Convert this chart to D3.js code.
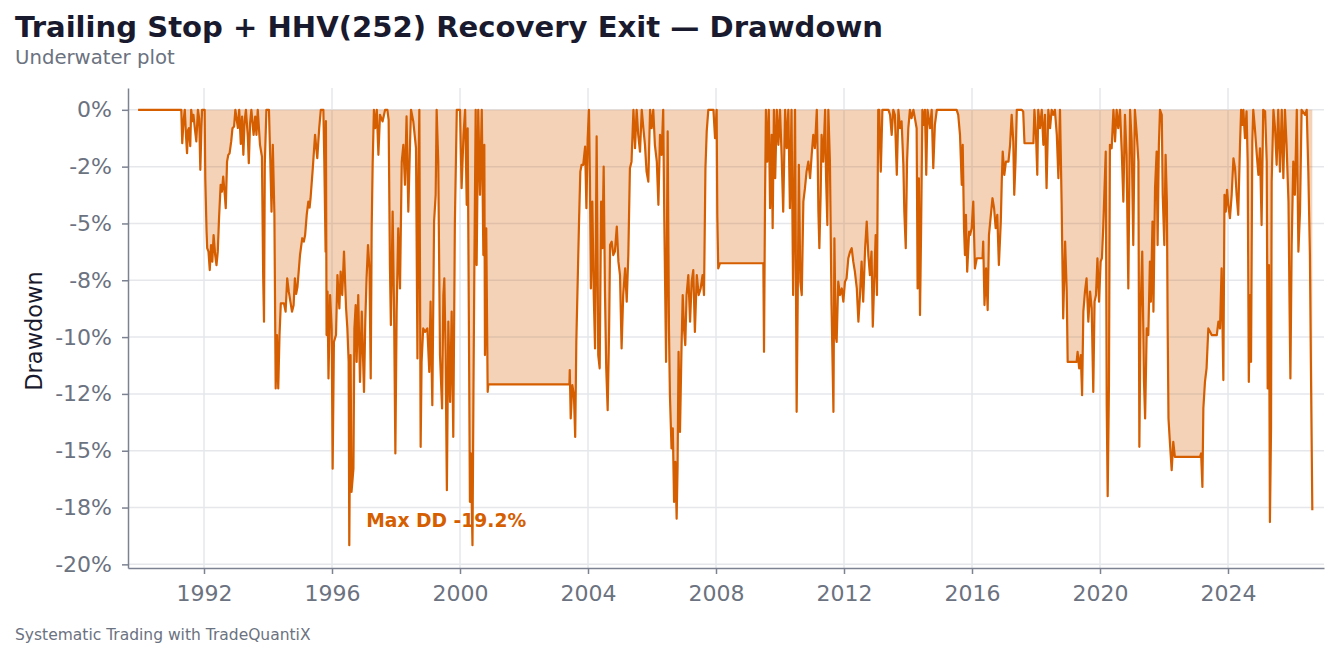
<!DOCTYPE html>
<html>
<head>
<meta charset="utf-8">
<script src="https://cdn.jsdelivr.net/npm/d3@7"></script>
<style>
    body { margin: 0; background: #fff; }
    svg { display: block; font-family: "DejaVu Sans", sans-serif; }
</style>
</head>
<body>
<svg id="chart" width="1339" height="657"></svg>
<script>
// Drawdown (%), as [decimal year, drawdown]
const dd1990s = [
    [1989.94, 0], [1991.29, 0], [1991.32, -1.47], [1991.36, -0.5], [1991.40, 0], [1991.44, -1.2], [1991.47, -1.91],
    [1991.50, -0.9], [1991.53, -0.81], [1991.57, -1.6], [1991.60, 0], [1991.64, -0.5], [1991.67, -0.22], [1991.72, -0.9],
    [1991.76, -1.39], [1991.81, 0], [1991.85, -0.4], [1991.885, -2.64], [1991.92, -0.8], [1991.94, 0], [1992.02, 0],
    [1992.04, -3.01], [1992.08, -5.36], [1992.10, -6.09], [1992.14, -6.24], [1992.18, -7.05], [1992.22, -5.95],
    [1992.26, -6.68], [1992.30, -5.51], [1992.35, -6.39], [1992.39, -6.83], [1992.43, -6.24], [1992.47, -4.77],
    [1992.52, -3.30], [1992.56, -3.60], [1992.60, -2.94], [1992.65, -3.74], [1992.68, -4.33], [1992.72, -2.28],
    [1992.76, -1.98], [1992.80, -1.91], [1992.85, -1.39], [1992.89, -0.81], [1992.94, -0.73], [1992.98, 0],
    [1993.06, -0.8], [1993.10, 0], [1993.15, -1.5], [1993.19, -0.3], [1993.23, -1.98], [1993.27, -0.5], [1993.31, 0],
    [1993.37, -1.2], [1993.40, -2.35], [1993.44, -0.6], [1993.48, 0], [1993.55, -1.1], [1993.60, -0.3], [1993.64, -1.10],
    [1993.68, 0], [1993.75, -1.54], [1993.81, -2.06], [1993.85, -7.4], [1993.875, -9.32], [1993.90, -2.4], [1993.95, 0],
    [1994.03, 0], [1994.07, -2.13], [1994.11, -4.48], [1994.15, -1.54], [1994.20, -4.62], [1994.24, -12.26],
    [1994.28, -9.91], [1994.32, -12.26], [1994.36, -9.91], [1994.40, -8.52], [1994.50, -8.52], [1994.55, -8.88],
    [1994.60, -7.42], [1994.65, -8.0], [1994.70, -8.44], [1994.75, -8.88], [1994.80, -8.6], [1994.84, -7.42],
    [1994.88, -8.1], [1994.92, -7.8], [1995.0, -6.39], [1995.07, -5.65], [1995.12, -5.8], [1995.16, -5.51],
    [1995.21, -4.62], [1995.26, -4.04], [1995.30, -4.3], [1995.33, -3.89], [1995.40, -2.57], [1995.47, -1.10],
    [1995.54, -2.13], [1995.60, -0.81], [1995.65, 0], [1995.73, 0], [1995.76, -2.28], [1995.80, -6.24], [1995.81, -0.5],
    [1995.83, -9.91], [1995.86, -8.0], [1995.89, -11.82], [1995.94, -8.15], [1995.99, -9.62], [1996.02, -15.79],
    [1996.06, -10.21], [1996.125, -9.91], [1996.17, -7.27], [1996.23, -8.74], [1996.27, -7.12], [1996.32, -8.15],
    [1996.375, -6.24], [1996.44, -8.74], [1996.48, -9.62], [1996.52, -11.09], [1996.54, -19.16], [1996.58, -10.79],
    [1996.61, -16.81], [1996.67, -15.79], [1996.70, -9.62], [1996.74, -8.59], [1996.77, -11.09], [1996.82, -8.15],
    [1996.875, -11.97], [1996.93, -8.88], [1997.0, -12.41], [1997.04, -9.32], [1997.08, -7.42], [1997.125, -5.95],
    [1997.17, -6.98], [1997.21, -11.82], [1997.24, -5.21], [1997.27, -2.42], [1997.31, 0], [1997.35, -0.81],
    [1997.40, 0], [1997.45, -1.98], [1997.50, -0.22], [1997.58, -0.51], [1997.66, 0], [1997.73, 0], [1997.77, -0.44],
    [1997.81, -6.83], [1997.84, -9.47], [1997.895, -4.48], [1997.94, -8.88], [1997.98, -15.12], [1998.02, -8.88],
    [1998.07, -5.21], [1998.125, -7.86], [1998.18, -2.28], [1998.23, -1.54], [1998.28, -3.30], [1998.33, -0.29],
    [1998.385, -4.48], [1998.44, -1.39], [1998.47, 0], [1998.54, -0.51], [1998.625, -1.69], [1998.67, -10.94],
    [1998.70, -3.01], [1998.73, 0], [1998.77, -14.83], [1998.80, -11.09], [1998.85, -9.62], [1998.91, -9.77],
    [1998.98, -9.62], [1999.04, -11.53], [1999.08, -8.44], [1999.135, -13.0], [1999.19, -4.92], [1999.24, -3.74],
    [1999.27, 0], [1999.32, -2.28], [1999.375, -10.79], [1999.44, -13.14], [1999.48, -8.15], [1999.51, -7.42],
    [1999.55, -10.79], [1999.59, -16.74], [1999.635, -9.32], [1999.69, -12.85], [1999.74, -8.88], [1999.79, -14.39],
    [1999.84, -4.92], [1999.90, 0]
];

const dd2000s = [
    [2000.0, 0], [2000.05, -3.45], [2000.11, -1.10], [2000.16, 0], [2000.21, -4.18], [2000.24, -0.81], [2000.28, -9.91],
    [2000.31, -17.25], [2000.34, -15.12], [2000.39, -19.16], [2000.42, -12.56], [2000.45, -6.68], [2000.49, 0],
    [2000.52, -6.83], [2000.57, 0], [2000.625, -3.74], [2000.68, 0], [2000.73, -6.39], [2000.76, -1.54],
    [2000.78, -10.79], [2000.82, -5.21], [2000.865, -12.41], [2000.885, -12.08], [2003.42, -12.08], [2003.43, -11.45],
    [2003.46, -13.58], [2003.51, -12.11], [2003.56, -12.56], [2003.60, -14.39], [2003.635, -10.21], [2003.68, -7.42],
    [2003.72, -4.92], [2003.76, -2.72], [2003.80, -2.42], [2003.85, -2.42], [2003.91, -1.62], [2003.95, -4.33],
    [2003.99, -1.25], [2004.03, 0], [2004.06, -3.01], [2004.09, -7.86], [2004.135, -4.04], [2004.18, -8.15],
    [2004.22, -10.50], [2004.27, -1.17], [2004.32, -10.79], [2004.365, -11.38], [2004.41, -4.04], [2004.45, -6.09],
    [2004.49, -2.50], [2004.53, -8.0], [2004.57, -11.38], [2004.615, -13.22], [2004.66, -9.62], [2004.69, -5.95],
    [2004.74, -5.80], [2004.79, -6.39], [2004.84, -6.24], [2004.90, -5.14], [2004.95, -6.68], [2005.0, -7.27],
    [2005.05, -10.50], [2005.10, -8.15], [2005.16, -6.98], [2005.21, -8.44], [2005.26, -6.39], [2005.31, -2.57],
    [2005.36, -2.28], [2005.42, 0], [2005.47, -1.69], [2005.52, 0], [2005.57, -1.10], [2005.625, -1.84], [2005.68, 0],
    [2005.73, -0.81], [2005.78, -1.54], [2005.83, -2.72], [2005.885, -3.16], [2005.94, 0], [2005.99, -0.81],
    [2006.04, 0], [2006.09, -1.54], [2006.15, -2.28], [2006.20, -4.18], [2006.25, -1.10], [2006.30, -1.98],
    [2006.35, 0], [2006.385, -4.92], [2006.44, -11.09], [2006.49, -0.95], [2006.53, -9.62], [2006.56, -12.56],
    [2006.61, -14.90], [2006.65, -14.02], [2006.69, -17.25], [2006.73, -15.49], [2006.77, -17.99], [2006.80, -15.64],
    [2006.83, -10.65], [2006.875, -14.17], [2006.92, -10.65], [2006.96, -8.15], [2007.0, -9.62], [2007.04, -10.35],
    [2007.08, -8.15], [2007.135, -7.27], [2007.19, -9.32], [2007.24, -7.56], [2007.29, -7.05], [2007.34, -9.77],
    [2007.40, -7.27], [2007.46, -8.15], [2007.52, -7.86], [2007.58, -7.27], [2007.625, -8.15], [2007.67, -2.57],
    [2007.71, -0.95], [2007.76, 0], [2007.92, 0], [2007.97, -1.25], [2008.02, 0], [2008.04, -4.62], [2008.07, -6.98],
    [2008.125, -6.75], [2009.48, -6.75], [2009.50, -10.65], [2009.53, -4.33], [2009.56, 0], [2009.60, -2.28],
    [2009.65, 0], [2009.69, -4.33], [2009.74, -1.10], [2009.77, -5.21], [2009.81, 0], [2009.85, -3.01], [2009.90, 0],
    [2009.95, -1.54]
];

const dd2010s = [
    [2010.0, 0], [2010.05, -1.98], [2010.10, -4.48], [2010.16, 0], [2010.21, -1.69], [2010.26, 0], [2010.31, -4.33],
    [2010.36, 0], [2010.41, -8.15], [2010.47, 0], [2010.52, -13.29], [2010.55, -8.88], [2010.59, -2.42],
    [2010.635, -7.56], [2010.68, -8.15], [2010.73, -4.04], [2010.78, -3.45], [2010.83, -2.72], [2010.885, -2.28],
    [2010.94, -3.01], [2010.99, -1.98], [2011.04, -1.10], [2011.09, -1.69], [2011.15, 0], [2011.18, -2.28],
    [2011.20, -4.48], [2011.23, -6.09], [2011.27, -3.74], [2011.30, -1.10], [2011.35, -2.28], [2011.41, 0],
    [2011.44, -3.01], [2011.48, -5.07], [2011.51, 0], [2011.56, -2.28], [2011.61, -8.59], [2011.67, -13.29],
    [2011.70, -5.65], [2011.74, -9.91], [2011.77, -10.21], [2011.82, -7.56], [2011.875, -8.15], [2011.93, -7.86],
    [2011.98, -8.44], [2012.03, -7.56], [2012.08, -7.42], [2012.135, -6.53], [2012.19, -6.24], [2012.24, -6.09],
    [2012.29, -6.68], [2012.34, -7.12], [2012.40, -7.86], [2012.45, -9.32], [2012.50, -8.15], [2012.55, -6.68],
    [2012.60, -8.44], [2012.66, -6.09], [2012.71, -4.92], [2012.76, -6.39], [2012.81, -7.27], [2012.86, -6.24],
    [2012.90, -9.54], [2012.95, -7.27], [2012.99, -5.51], [2013.03, -8.15], [2013.07, 0], [2013.10, 0],
    [2013.15, -2.72], [2013.20, 0], [2013.39, 0], [2013.44, -0.22], [2013.49, -1.10], [2013.54, 0], [2013.59, -0.22],
    [2013.65, -2.86], [2013.70, 0], [2013.75, -0.81], [2013.80, -0.51], [2013.855, -2.42], [2013.885, -4.48],
    [2013.93, -6.09], [2013.97, -2.28], [2014.01, -0.81], [2014.06, 0], [2014.11, -0.37], [2014.17, 0],
    [2014.27, -0.81], [2014.30, -7.86], [2014.34, -3.01], [2014.375, -9.03], [2014.41, -5.21], [2014.45, 0],
    [2014.49, -0.66], [2014.53, 0], [2014.57, -2.86], [2014.61, 0], [2014.69, -0.81], [2014.74, 0], [2014.79, -2.57],
    [2014.84, -0.66], [2014.90, 0], [2015.52, 0], [2015.57, -0.22], [2015.625, -1.10], [2015.68, -3.30],
    [2015.71, -1.54], [2015.75, -5.21], [2015.78, -6.39], [2015.81, -4.62], [2015.85, -7.12], [2015.91, -5.36],
    [2015.94, -5.51], [2015.99, -5.21], [2016.04, -4.04], [2016.09, -6.98], [2016.15, -6.53], [2016.33, -6.53],
    [2016.35, -5.80], [2016.39, -8.59], [2016.44, -6.98], [2016.49, -8.81], [2016.53, -5.51], [2016.58, -4.77],
    [2016.64, -3.89], [2016.69, -4.33], [2016.74, -5.21], [2016.79, -4.62], [2016.84, -6.83], [2016.90, -4.92],
    [2016.93, -3.16], [2016.96, -1.84], [2017.01, -2.86], [2017.06, -2.28], [2017.14, -2.28], [2017.19, -1.54],
    [2017.24, -0.22], [2017.29, -1.39], [2017.32, -3.74], [2017.36, -2.28], [2017.40, 0], [2017.55, 0],
    [2017.60, -0.07], [2017.64, -1.47], [2017.92, -1.47], [2017.95, 0], [2018.0, -1.10], [2018.04, -2.86],
    [2018.07, 0], [2018.125, -0.81], [2018.18, 0], [2018.23, -1.54], [2018.28, -0.22], [2018.33, -3.45],
    [2018.385, 0], [2018.44, -0.81], [2018.49, 0], [2018.54, -0.22], [2018.59, 0], [2018.65, -1.10], [2018.70, -3.01],
    [2018.75, 0], [2018.80, -4.04], [2018.85, -9.18], [2018.91, -5.80], [2018.96, -8.0], [2018.99, -11.09],
    [2019.27, -11.09], [2019.30, -10.65], [2019.35, -11.38], [2019.40, -10.79], [2019.44, -12.56], [2019.48, -8.88],
    [2019.53, -8.0], [2019.58, -7.42], [2019.635, -9.32], [2019.69, -8.0], [2019.74, -8.74], [2019.79, -12.41],
    [2019.83, -8.44], [2019.875, -8.15], [2019.92, -6.53], [2019.97, -8.44]
];

const dd2020s = [
    [2020.02, -6.68], [2020.06, -6.53], [2020.10, -5.21], [2020.135, -3.74], [2020.18, -1.84], [2020.21, -13.0],
    [2020.24, -17.0], [2020.28, -12.11], [2020.31, -1.54], [2020.365, -1.69], [2020.42, 0], [2020.47, -1.39],
    [2020.52, 0], [2020.57, -0.81], [2020.625, 0], [2020.68, -1.84], [2020.73, -4.04], [2020.78, -0.22],
    [2020.83, -1.98], [2020.885, -7.86], [2020.94, 0], [2020.99, -1.39], [2021.04, -5.95], [2021.09, 0],
    [2021.15, -1.10], [2021.20, -2.28], [2021.23, -14.83], [2021.27, -8.74], [2021.32, -6.24], [2021.375, -11.97],
    [2021.41, -13.58], [2021.46, -9.62], [2021.51, -9.91], [2021.56, -6.68], [2021.59, -8.44], [2021.64, -4.92],
    [2021.67, -8.88], [2021.72, -3.45], [2021.77, -1.84], [2021.80, -5.95], [2021.84, -1.54], [2021.875, 0],
    [2021.93, -0.22], [2021.96, -3.74], [2022.01, -5.95], [2022.05, -1.98], [2022.09, -4.04], [2022.115, -9.62],
    [2022.14, -13.58], [2022.19, -14.76], [2022.24, -15.86], [2022.29, -14.61], [2022.34, -15.27], [2023.125, -15.27],
    [2023.16, -15.12], [2023.20, -16.59], [2023.23, -13.14], [2023.28, -11.97], [2023.33, -11.38], [2023.385, -9.62],
    [2023.44, -9.77], [2023.49, -9.91], [2023.65, -9.91], [2023.70, -9.32], [2023.75, -9.62], [2023.80, -6.98],
    [2023.855, -11.89], [2023.89, -3.74], [2023.93, -4.48], [2023.97, -3.52], [2024.01, -4.18], [2024.06, -4.77],
    [2024.115, -3.74], [2024.17, -2.13], [2024.22, -2.57], [2024.27, -3.74], [2024.32, -4.62], [2024.375, -1.54],
    [2024.41, 0], [2024.45, -0.66], [2024.48, 0], [2024.53, -1.25], [2024.58, -0.07], [2024.615, -2.28],
    [2024.65, -11.97], [2024.69, -8.15], [2024.72, -11.09], [2024.76, -1.39], [2024.79, 0], [2024.84, -0.81],
    [2024.90, -1.98], [2024.95, -2.86], [2025.0, -1.69], [2025.05, -5.07], [2025.10, 0], [2025.16, -0.07],
    [2025.21, -2.28], [2025.24, -12.26], [2025.28, -6.83], [2025.31, -18.14], [2025.345, -14.02], [2025.365, -3.16],
    [2025.42, 0], [2025.47, -0.81], [2025.52, -2.42], [2025.57, 0], [2025.625, -2.72], [2025.68, 0], [2025.73, -3.01],
    [2025.78, 0], [2025.83, -1.54], [2025.89, -4.04], [2025.93, -9.47], [2025.95, -11.82], [2025.99, -5.95],
    [2026.04, -2.28], [2026.09, -3.74], [2026.15, 0], [2026.20, -6.24], [2026.25, -4.48], [2026.30, 0],
    [2026.41, -0.22], [2026.46, 0], [2026.51, -2.72], [2026.56, -6.39], [2026.59, -11.09], [2026.635, -17.62]
];

// Axis ticks
const xTicks = [1992, 1996, 2000, 2004, 2008, 2012, 2016, 2020, 2024];
const yTicks = [0, -2.5, -5, -7.5, -10, -12.5, -15, -17.5, -20];
const yTickLabels = ["0%", "-2%", "-5%", "-8%", "-10%", "-12%", "-15%", "-18%", "-20%"];
const maxDD = -19.2;
const maxDDYear = 1996.54;

const drawdown = [...dd1990s, ...dd2000s, ...dd2010s, ...dd2020s];

const svg = d3.select("#chart"),
    margin = { top: 88, right: 15, bottom: 89, left: 128 },
    width = +svg.attr("width") - margin.left - margin.right,
    height = +svg.attr("height") - margin.top - margin.bottom;

const orange = "#d55e00",
    gray = "#6b7280",
    dark = "#1a1a2e";

const x = d3.scaleLinear().domain([1989.625, 2027.0]).range([0, width]);
const y = d3.scaleLinear().domain([-20.16, 0.96]).range([height, 0]);

// Title block
svg.append("text")
    .attr("x", 15).attr("y", 37)
    .attr("font-size", 29.1).attr("font-weight", "bold")
    .attr("fill", dark)
    .text("Trailing Stop + HHV(252) Recovery Exit — Drawdown");

svg.append("text")
    .attr("x", 15).attr("y", 64)
    .attr("font-size", 19.7)
    .attr("fill", gray)
    .text("Underwater plot");

svg.append("text")
    .attr("x", 15).attr("y", 640)
    .attr("font-size", 15.5)
    .attr("fill", gray)
    .text("Systematic Trading with TradeQuantiX");

const g = svg.append("g")
    .attr("transform", `translate(${margin.left},${margin.top})`);

// Grid
g.append("g").selectAll("line")
    .data(yTicks).enter().append("line")
    .attr("x1", 0).attr("x2", width)
    .attr("y1", d => y(d)).attr("y2", d => y(d))
    .attr("stroke", "#e5e7eb").attr("stroke-width", 1.5);

g.append("g").selectAll("line")
    .data(xTicks).enter().append("line")
    .attr("y1", 0).attr("y2", height)
    .attr("x1", d => x(d)).attr("x2", d => x(d))
    .attr("stroke", "#e5e7eb").attr("stroke-width", 1.5);

// Underwater area + line
const area = d3.area()
    .x(d => x(d[0]))
    .y0(y(0))
    .y1(d => y(d[1]));

const line = d3.line()
    .x(d => x(d[0]))
    .y(d => y(d[1]));

g.append("path")
    .datum(drawdown)
    .attr("d", area)
    .attr("fill", orange)
    .attr("fill-opacity", 0.28);

g.append("path")
    .datum(drawdown)
    .attr("d", line)
    .attr("fill", "none")
    .attr("stroke", orange)
    .attr("stroke-width", 2.2)
    .attr("stroke-linejoin", "round");

// Axes
const xAxis = g.append("g")
    .attr("transform", `translate(0,${height})`)
    .call(d3.axisBottom(x)
        .tickValues(xTicks)
        .tickFormat(d3.format("d"))
        .tickSize(6).tickSizeOuter(0).tickPadding(11));

const yAxis = g.append("g")
    .call(d3.axisLeft(y)
        .tickValues(yTicks)
        .tickFormat((d, i) => yTickLabels[i])
        .tickSize(6).tickSizeOuter(0).tickPadding(10));

[xAxis, yAxis].forEach(ax => {
    ax.select(".domain").attr("stroke", "#7c8291").attr("stroke-width", 1.5);
    ax.selectAll(".tick line").attr("stroke", "#7c8291").attr("stroke-width", 1.5);
    ax.selectAll(".tick text")
        .attr("fill", gray)
        .attr("font-size", 22)
        .attr("font-family", "DejaVu Sans, sans-serif");
});

// Y axis label
g.append("text")
    .attr("transform", `translate(${34 - margin.left},${331 - margin.top}) rotate(-90)`)
    .attr("text-anchor", "middle")
    .attr("dy", "0.35em")
    .attr("font-size", 22.5)
    .attr("fill", dark)
    .text("Drawdown");

// Max drawdown annotation
g.append("text")
    .attr("x", x(maxDDYear) + 17)
    .attr("y", y(maxDD) - 19)
    .attr("font-size", 18.7)
    .attr("font-weight", "bold")
    .attr("fill", orange)
    .text(`Max DD ${maxDD.toFixed(1)}%`);
</script>
</body>
</html>
